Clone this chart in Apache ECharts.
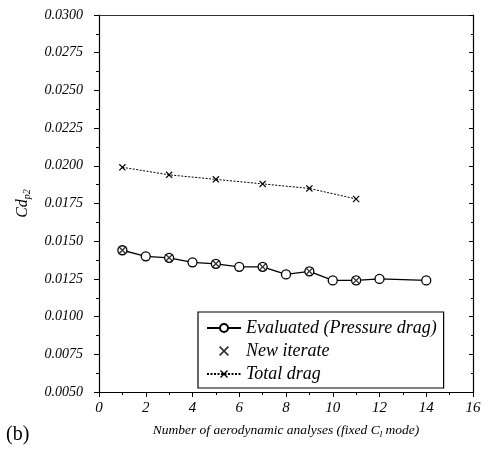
<!DOCTYPE html>
<html>
<head>
<meta charset="utf-8">
<script src="https://cdn.jsdelivr.net/npm/echarts@6/dist/echarts.min.js"></script>
<style>
  html, body { margin: 0; padding: 0; background: #fff; }
  #chart { width: 488px; height: 457px; }
</style>
</head>
<body>
<div id="chart"></div>
<script>
const evalX = [1, 2, 3, 4, 5, 6, 7, 8, 9, 10, 11, 12, 14];
const evalCd = [0.0144, 0.0140, 0.0139, 0.0136, 0.0135, 0.0133, 0.0133, 0.0128, 0.0130, 0.0124, 0.0124, 0.0125, 0.0124];
const iterX = [1, 3, 5, 7, 9, 11];
const iterCd = [0.0144, 0.0139, 0.0135, 0.0133, 0.0130, 0.0124];
const totalX = [1, 3, 5, 7, 9, 11];
const totalCd = [0.0199, 0.0194, 0.0191, 0.0188, 0.0185, 0.0178];

const serif = "Liberation Serif";
const cross = "path://M0,1.2L1.2,0L5,3.8L8.8,0L10,1.2L6.2,5L10,8.8L8.8,10L5,6.2L1.2,10L0,8.8L3.8,5Z";

const pairs = (xs, ys) => xs.map((x, i) => [x, ys[i]]);

const chart = echarts.init(document.getElementById("chart"));

const axisText = {
  fontFamily: serif,
  fontStyle: "italic",
  fontSize: 14,
  color: "#000",
};

chart.setOption({
  animation: false,
  grid: { left: 99, right: 15, top: 15, bottom: 65 },
  legend: {
    orient: "vertical",
    left: 198,
    top: 312,
    padding: [7, 7, 5, 8],
    itemGap: 5,
    itemWidth: 34,
    itemHeight: 10,
    borderColor: "#000",
    borderWidth: 1.2,
    borderRadius: 0,
    backgroundColor: "#fff",
    textStyle: { fontFamily: serif, fontStyle: "italic", fontSize: 18, color: "#000" },
    data: ["Evaluated (Pressure drag)", "New iterate", "Total drag"],
  },
  xAxis: [
    {
      type: "value",
      min: 0,
      max: 16,
      interval: 2,
      name: "{n|Number of aerodynamic analyses (fixed C}{s|l}{n| mode)}",
      nameLocation: "middle",
      nameGap: 30,
      nameTextStyle: {
        rich: {
          n: { fontFamily: serif, fontStyle: "italic", fontSize: 13.5, color: "#000" },
          s: { fontFamily: serif, fontStyle: "italic", fontSize: 9, color: "#000", padding: [8, 0, 0, 0] },
        },
      },
      axisLine: { lineStyle: { color: "#000", width: 1.2 } },
      axisTick: { length: 5, lineStyle: { color: "#000" } },
      minorTick: { show: true, splitNumber: 2, length: 3, lineStyle: { color: "#000" } },
      axisLabel: Object.assign({ margin: 9 }, axisText, { fontSize: 15 }),
      splitLine: { show: false },
    },
    {
      type: "value",
      position: "top",
      min: 0,
      max: 16,
      interval: 2,
      axisLine: { show: true, onZero: false, lineStyle: { color: "#333", width: 1 } },
      axisTick: { show: false },
      axisLabel: { show: false },
      splitLine: { show: false },
    },
  ],
  yAxis: [
    {
      type: "value",
      min: 0.005,
      max: 0.03,
      interval: 0.0025,
      name: "{n|Cd}{s|p2}",
      nameLocation: "middle",
      nameGap: 67,
      nameRotate: 90,
      nameTextStyle: {
        rich: {
          n: { fontFamily: serif, fontStyle: "italic", fontSize: 16, color: "#000" },
          s: { fontFamily: serif, fontStyle: "italic", fontSize: 10, color: "#000", padding: [8, 0, 0, 0] },
        },
      },
      axisLine: { show: true, onZero: false, lineStyle: { color: "#000", width: 1.2 } },
      axisTick: { length: 5, lineStyle: { color: "#000" } },
      minorTick: { show: true, splitNumber: 2, length: 3, lineStyle: { color: "#000" } },
      axisLabel: Object.assign({ margin: 16, formatter: (v) => v.toFixed(4) }, axisText),
      splitLine: { show: false },
    },
    {
      type: "value",
      position: "right",
      min: 0.005,
      max: 0.03,
      interval: 0.0025,
      axisLine: { show: true, onZero: false, lineStyle: { color: "#000", width: 1.2 } },
      axisTick: { inside: true, length: 4, lineStyle: { color: "#000" } },
      minorTick: { show: true, splitNumber: 2, length: 2, lineStyle: { color: "#000" } },
      axisLabel: { show: false },
      splitLine: { show: false },
    },
  ],
  series: [
    {
      name: "Evaluated (Pressure drag)",
      type: "line",
      data: pairs(evalX, evalCd),
      symbol: "circle",
      symbolSize: 9,
      lineStyle: { color: "#000", width: 1.3 },
      itemStyle: { color: "#fff", borderColor: "#000", borderWidth: 1.3 },
      z: 2,
    },
    {
      name: "New iterate",
      type: "scatter",
      data: pairs(iterX, iterCd),
      symbol: cross,
      symbolSize: 8,
      itemStyle: { color: "#000" },
      z: 3,
    },
    {
      name: "Total drag",
      type: "line",
      data: pairs(totalX, totalCd),
      symbol: cross,
      symbolSize: 7,
      lineStyle: { color: "#000", width: 1, type: [2, 1.5] },
      itemStyle: { color: "#000" },
      z: 2,
    },
  ],
  graphic: [
    {
      type: "text",
      left: 6,
      top: 425,
      style: { text: "(b)", font: "20px 'Liberation Serif'", fill: "#000" },
    },
  ],
});
</script>
</body>
</html>
